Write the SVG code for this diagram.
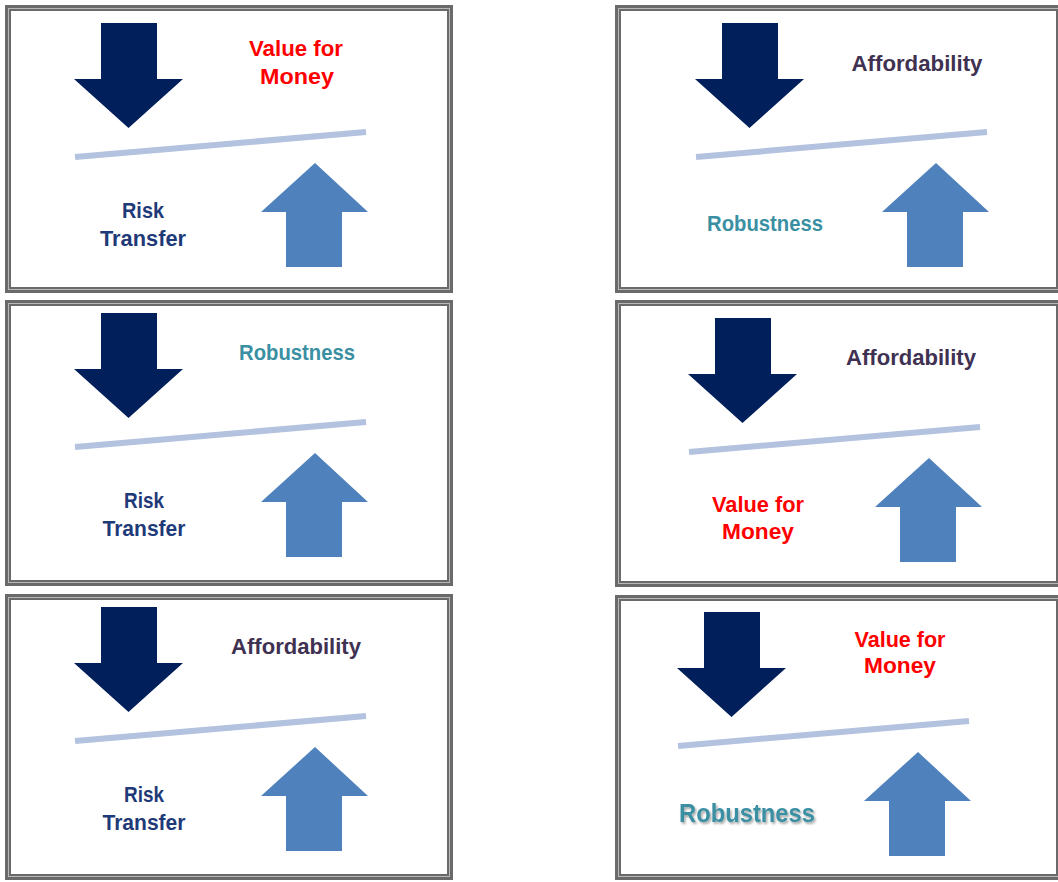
<svg xmlns="http://www.w3.org/2000/svg" xmlns:xlink="http://www.w3.org/1999/xlink" width="1058" height="882" viewBox="0 0 1058 882">
<style>
.frame{fill:#ffffff;stroke:#6a6a6a;stroke-width:6}
.frameIn{fill:none;stroke:#b8b8b8;stroke-width:1}
.t{font-family:"Liberation Sans",Arial,sans-serif;font-weight:bold;font-size:22px;text-anchor:middle}
.red{fill:#ff0000}
.navy{fill:#1f3a78}
.purple{fill:#3f3151}
.teal{fill:#3a8fa3}
.down{fill:#001f5b}
.up{fill:#4f81bd}
.beam{stroke:#b3c2de;stroke-width:6;fill:none}
</style>
<defs>
<filter id="sh" x="-10%" y="-30%" width="130%" height="180%">
<feDropShadow dx="1.5" dy="2" stdDeviation="1.2" flood-color="#000" flood-opacity="0.35"/>
</filter>
<g id="scale">
<polygon class="down" points="101,23 157,23 157,79 183,79 128.5,128 74,79 101,79"/>
<line class="beam" x1="75" y1="157" x2="366" y2="132"/>
<polygon class="up" points="315,163 368,212 342,212 342,267 286,267 286,212 261,212"/>
</g>
</defs>
<rect width="1058" height="882" fill="#ffffff"/>

<g id="panel1">
<rect class="frame" x="8" y="8" width="442" height="282"/>
<rect class="frameIn" x="8.5" y="8.5" width="441" height="281"/>
<use xlink:href="#scale" href="#scale"/>
<text class="t red" x="296" y="56" textLength="94" lengthAdjust="spacingAndGlyphs">Value for</text>
<text class="t red" x="297" y="84" textLength="74" lengthAdjust="spacingAndGlyphs">Money</text>
<text class="t navy" x="143" y="218" textLength="42" lengthAdjust="spacingAndGlyphs">Risk</text>
<text class="t navy" x="143" y="246" textLength="86" lengthAdjust="spacingAndGlyphs">Transfer</text>
</g>

<g id="panel2">
<rect class="frame" x="618" y="8" width="441" height="282"/>
<rect class="frameIn" x="618.5" y="8.5" width="440" height="281"/>
<use xlink:href="#scale" href="#scale" transform="translate(621,0)"/>
<text class="t purple" x="917" y="71" textLength="131" lengthAdjust="spacingAndGlyphs">Affordability</text>
<text class="t teal" x="765" y="231" textLength="116" lengthAdjust="spacingAndGlyphs">Robustness</text>
</g>

<g id="panel3">
<rect class="frame" x="8" y="303" width="442" height="280"/>
<rect class="frameIn" x="8.5" y="303.5" width="441" height="279"/>
<use xlink:href="#scale" href="#scale" transform="translate(0,290)"/>
<text class="t teal" x="297" y="360" textLength="116" lengthAdjust="spacingAndGlyphs">Robustness</text>
<text class="t navy" x="144" y="508" textLength="40" lengthAdjust="spacingAndGlyphs">Risk</text>
<text class="t navy" x="144" y="536" textLength="83" lengthAdjust="spacingAndGlyphs">Transfer</text>
</g>

<g id="panel4">
<rect class="frame" x="618" y="303" width="441" height="281"/>
<rect class="frameIn" x="618.5" y="303.5" width="440" height="280"/>
<use xlink:href="#scale" href="#scale" transform="translate(614,295)"/>
<text class="t purple" x="911" y="365" textLength="130" lengthAdjust="spacingAndGlyphs">Affordability</text>
<text class="t red" x="758" y="512" textLength="92" lengthAdjust="spacingAndGlyphs">Value for</text>
<text class="t red" x="758" y="539" textLength="72" lengthAdjust="spacingAndGlyphs">Money</text>
</g>

<g id="panel5">
<rect class="frame" x="8" y="597" width="442" height="280"/>
<rect class="frameIn" x="8.5" y="597.5" width="441" height="279"/>
<use xlink:href="#scale" href="#scale" transform="translate(0,584)"/>
<text class="t purple" x="296" y="654" textLength="130" lengthAdjust="spacingAndGlyphs">Affordability</text>
<text class="t navy" x="144" y="802" textLength="40" lengthAdjust="spacingAndGlyphs">Risk</text>
<text class="t navy" x="144" y="830" textLength="83" lengthAdjust="spacingAndGlyphs">Transfer</text>
</g>

<g id="panel6">
<rect class="frame" x="618" y="598" width="441" height="279"/>
<rect class="frameIn" x="618.5" y="598.5" width="440" height="278"/>
<use xlink:href="#scale" href="#scale" transform="translate(603,589)"/>
<text class="t red" x="900" y="647" textLength="91" lengthAdjust="spacingAndGlyphs">Value for</text>
<text class="t red" x="900" y="673" textLength="72" lengthAdjust="spacingAndGlyphs">Money</text>
<text class="t teal" x="747" y="822" font-size="25" style="font-size:25px" filter="url(#sh)" textLength="136" lengthAdjust="spacingAndGlyphs">Robustness</text>
</g>

<g id="connectors"></g>
</svg>
